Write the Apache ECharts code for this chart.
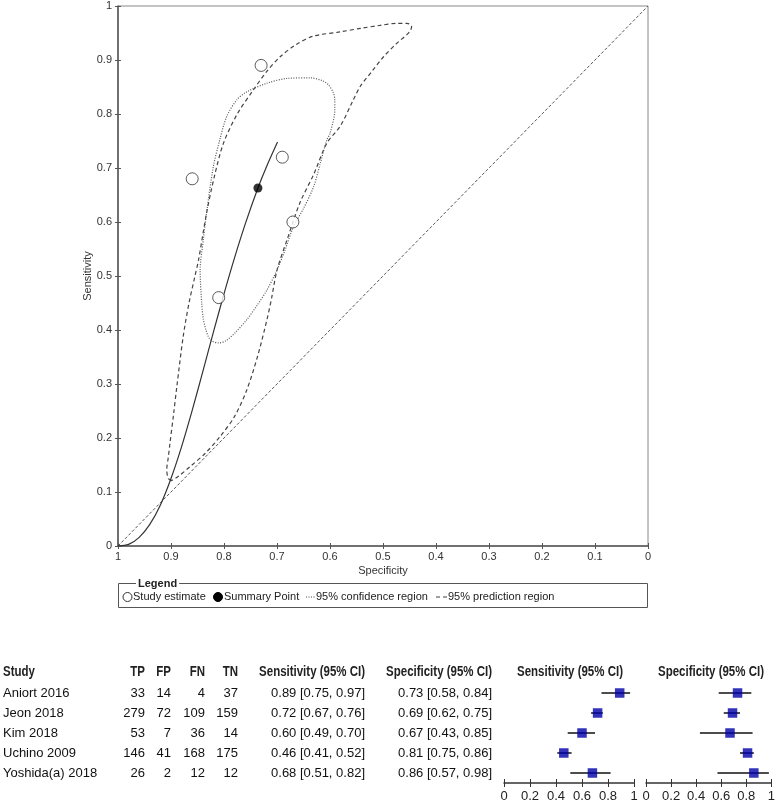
<!DOCTYPE html>
<html><head><meta charset="utf-8">
<script src="https://cdn.jsdelivr.net/npm/echarts@6/dist/echarts.min.js"></script>
<style>html,body{margin:0;padding:0;background:#fff}#c{width:778px;height:803px}</style>
</head><body><div id="c"></div>
<script>
// ---- data ----
const studies = ['Aniort 2016','Jeon 2018','Kim 2018','Uchino 2009','Yoshida(a) 2018'];
const tp = [33,279,53,146,26];
const fp = [14,72,7,41,2];
const fn = [4,109,36,168,12];
const tn = [37,159,14,175,12];
const sens   = [0.89,0.72,0.60,0.46,0.68];
const sensLo = [0.75,0.67,0.49,0.41,0.51];
const sensHi = [0.97,0.76,0.70,0.52,0.82];
const spec   = [0.73,0.69,0.67,0.81,0.86];
const specLo = [0.58,0.62,0.43,0.75,0.57];
const specHi = [0.84,0.75,0.85,0.86,0.98];
const summarySpec = 0.736, summarySens = 0.663;
// SROC curve (specificity, sensitivity)
const srocSpec = [1.0,0.98,0.96,0.94,0.92,0.90,0.88,0.86,0.84,0.82,0.80,0.78,0.76,0.736,0.72,0.699];
const srocSens = [0,0.003,0.016,0.04,0.076,0.125,0.184,0.251,0.323,0.396,0.467,0.534,0.596,0.663,0.702,0.748];
// 95% confidence region
const confSpec = [0.82,0.828,0.834,0.839,0.842,0.845,0.839,0.833,0.82,0.808,0.795,0.776,0.757,0.719,0.68,0.638,0.615,0.603,0.594,0.591,0.591,0.60,0.606,0.618,0.631,0.65,0.669,0.686,0.70,0.719,0.738,0.757,0.777,0.795,0.81,0.82];
const confSens = [0.378,0.385,0.40,0.42,0.449,0.511,0.567,0.616,0.703,0.752,0.795,0.826,0.841,0.857,0.866,0.867,0.862,0.854,0.84,0.826,0.807,0.764,0.752,0.71,0.665,0.625,0.591,0.545,0.511,0.474,0.445,0.419,0.397,0.381,0.376,0.378];
// 95% prediction region
const predSpec = [0.899,0.905,0.908,0.905,0.902,0.895,0.889,0.877,0.866,0.855,0.848,0.833,0.818,0.801,0.775,0.745,0.72,0.694,0.665,0.632,0.581,0.54,0.506,0.474,0.455,0.446,0.448,0.455,0.475,0.499,0.52,0.543,0.556,0.581,0.606,0.63,0.657,0.68,0.70,0.71,0.719,0.737,0.757,0.78,0.808,0.835,0.864,0.885,0.899];
const predSens = [0.121,0.125,0.141,0.165,0.19,0.245,0.295,0.388,0.45,0.499,0.53,0.616,0.685,0.746,0.80,0.844,0.878,0.906,0.928,0.944,0.952,0.959,0.964,0.968,0.968,0.963,0.955,0.947,0.93,0.906,0.88,0.851,0.826,0.777,0.746,0.69,0.635,0.57,0.511,0.46,0.419,0.35,0.289,0.24,0.202,0.172,0.147,0.13,0.121];
const diagSpec = [1,0];
const diagSens = [0,1];

// ---- layout ----
const FONT = '"Liberation Sans", Arial, sans-serif';
const zip = (a,b) => a.map((v,i)=>[v,b[i]]);
const chart = echarts.init(document.getElementById('c'), null, {renderer:'canvas'});

function axisPair(gridIndex, min, max, interval, inverse, tickLen, lineColor, labelOpt, extra){
  const base = {gridIndex, type:'value', min, max, interval, inverse, splitLine:{show:false}};
  const a = Object.assign({}, base, {
    axisLine:{show:true, onZero:false, lineStyle:{color:lineColor, width:1.5}},
    axisTick:{show:true, length:tickLen, lineStyle:{color:lineColor, width:1}},
    axisLabel:Object.assign({showMinLabel:true, showMaxLabel:true, fontFamily:FONT}, labelOpt)
  }, extra||{});
  const b = Object.assign({}, base, {
    position: extra && extra.position,
    axisLine:{show:false, onZero:false},
    axisTick:{show:true, inside:true, length:tickLen, lineStyle:{color:lineColor, width:1}},
    axisLabel:{show:false}
  });
  return [a,b];
}

const xs0 = axisPair(0,0,1,0.1,true,3,'#555',{fontSize:11,color:'#333',margin:5},
  {position:'bottom', name:'Specificity', nameLocation:'middle', nameGap:19, nameMoveOverlap:false,
   nameTextStyle:{fontSize:11,color:'#333',fontFamily:FONT}});
const ys0 = axisPair(0,0,1,0.1,false,3,'#555',{fontSize:11,color:'#333',margin:6},
  {position:'left', name:'Sensitivity', nameLocation:'middle', nameGap:25, nameMoveOverlap:false,
   nameTextStyle:{fontSize:11,color:'#333',fontFamily:FONT}});
const forestLabel = {fontSize:13,color:'#222',margin:7,fontFamily:FONT};
const xs1 = axisPair(1,0,1,0.2,false,4,'#333',forestLabel,{position:'bottom'});
const xs2 = axisPair(2,0,1,0.2,false,4,'#333',forestLabel,{position:'bottom'});

const catY = (g)=>({gridIndex:g, type:'category', data:studies, inverse:true, show:false});

function ciSeries(xi, yi, lo, hi){
  return {type:'custom', xAxisIndex:xi, yAxisIndex:yi, silent:true,
    data: studies.map((s,i)=>[lo[i], hi[i], i]),
    encode:{x:[0,1], y:2},
    renderItem:(p, api)=>{
      const a = api.coord([api.value(0), api.value(2)]);
      const b = api.coord([api.value(1), api.value(2)]);
      return {type:'line', shape:{x1:a[0],y1:a[1],x2:b[0],y2:b[1]}, style:{stroke:'#111', lineWidth:1.5}};
    }};
}
function sqSeries(xi, yi, v){
  return {type:'scatter', xAxisIndex:xi, yAxisIndex:yi, symbol:'rect', symbolSize:9.5, z:5,
    itemStyle:{color:'#0000a8'}, data: studies.map((s,i)=>[v[i], i])};
}

// table text
const rowY = i => 693.1 + 20.2*i;
const HY = 672;
const txt = [];
function T(x, y, s, align, opts){
  opts = opts||{};
  const el = {type:'text', x, y, z:10, silent:true,
    style:{text:s, x:0, y:0, align, textAlign:align, verticalAlign:'middle', textVerticalAlign:'middle',
      font:(opts.bold?'bold ':'') + (opts.size||13) + 'px ' + FONT, fill:opts.color||'#111'}};
  if (opts.scaleX) el.scaleX = opts.scaleX;
  txt.push(el);
}
const HB = {bold:true, size:14, scaleX:0.82, color:'#222'};
T(3, HY, 'Study', 'left', HB);
T(145, HY, 'TP', 'right', HB);
T(171, HY, 'FP', 'right', HB);
T(205, HY, 'FN', 'right', HB);
T(238, HY, 'TN', 'right', HB);
T(365, HY, 'Sensitivity (95% CI)', 'right', HB);
T(492, HY, 'Specificity (95% CI)', 'right', HB);
T(570, HY, 'Sensitivity (95% CI)', 'center', HB);
T(711, HY, 'Specificity (95% CI)', 'center', HB);
const f2 = v => v.toFixed(2);
studies.forEach((s,i)=>{
  const y = rowY(i);
  T(3, y, s, 'left');
  T(145, y, String(tp[i]), 'right');
  T(171, y, String(fp[i]), 'right');
  T(205, y, String(fn[i]), 'right');
  T(238, y, String(tn[i]), 'right');
  T(365, y, f2(sens[i])+' ['+f2(sensLo[i])+', '+f2(sensHi[i])+']', 'right');
  T(492, y, f2(spec[i])+' ['+f2(specLo[i])+', '+f2(specHi[i])+']', 'right');
});

// legend box
const LY = 597;
const lt = (x, s) => ({type:'text', x, y:LY, silent:true, style:{text:s, x:0, y:0, align:'left', textAlign:'left', verticalAlign:'middle', textVerticalAlign:'middle', font:'11px '+FONT, fill:'#222'}});
const legendEls = [
  {type:'rect', shape:{x:118.5, y:583.5, width:529, height:24}, style:{fill:'none', stroke:'#555', lineWidth:1}, silent:true},
  {type:'text', x:136, y:583.5, silent:true, style:{text:'Legend', x:0, y:0, align:'left', textAlign:'left', verticalAlign:'middle', textVerticalAlign:'middle', font:'bold 11px '+FONT, fill:'#222', backgroundColor:'#fff', padding:[0,2]}},
  {type:'circle', shape:{cx:127.5, cy:LY, r:4.5}, style:{fill:'#fff', stroke:'#333', lineWidth:1}, silent:true},
  lt(133, 'Study estimate'),
  {type:'circle', shape:{cx:218, cy:LY, r:4.5}, style:{fill:'#000', stroke:'#000', lineWidth:1}, silent:true},
  lt(224, 'Summary Point'),
  {type:'line', shape:{x1:306, y1:LY, x2:315, y2:LY}, style:{stroke:'#444', lineWidth:1, lineDash:[1,1.5]}, silent:true},
  lt(316, '95% confidence region'),
  {type:'line', shape:{x1:436, y1:LY, x2:447, y2:LY}, style:{stroke:'#444', lineWidth:1.2, lineDash:[4,3]}, silent:true},
  lt(448, '95% prediction region')
];

const option = {
  animation:false,
  backgroundColor:'#fff',
  textStyle:{fontFamily:FONT},
  grid:[
    {left:118, top:6, width:530, height:540, show:true, borderColor:'#888', borderWidth:1, backgroundColor:'transparent'},
    {left:504, top:683, width:130, height:101},
    {left:646, top:683, width:129, height:101}
  ],
  xAxis:[xs0[0], xs0[1], xs1[0], xs1[1], xs2[0], xs2[1]],
  yAxis:[ys0[0], ys0[1], catY(1), catY(2)],
  graphic:{elements: txt.concat(legendEls)},
  series:[
    {type:'line', name:'diag', xAxisIndex:0, yAxisIndex:0, data:zip(diagSpec,diagSens), symbol:'none', silent:true,
      lineStyle:{color:'#555', width:1, type:[3,2]}},
    {type:'line', name:'95% prediction region', xAxisIndex:0, yAxisIndex:0, data:zip(predSpec,predSens), symbol:'none', smooth:0.3, silent:true,
      lineStyle:{color:'#444', width:1.2, type:[4,3]}},
    {type:'line', name:'95% confidence region', xAxisIndex:0, yAxisIndex:0, data:zip(confSpec,confSens), symbol:'none', smooth:0.3, silent:true,
      lineStyle:{color:'#555', width:1.2, type:[1,1.5]}},
    {type:'line', name:'SROC', xAxisIndex:0, yAxisIndex:0, data:zip(srocSpec,srocSens), symbol:'none', smooth:0.3, silent:true,
      lineStyle:{color:'#333', width:1.2}},
    {type:'scatter', name:'Study estimate', xAxisIndex:0, yAxisIndex:0, data:zip(spec,sens), symbol:'circle', symbolSize:12, z:5,
      itemStyle:{color:'#fff', borderColor:'#333', borderWidth:1}},
    {type:'scatter', name:'Summary Point', xAxisIndex:0, yAxisIndex:0, data:[[summarySpec, summarySens]], symbol:'circle', symbolSize:9, z:6,
      itemStyle:{color:'#000'}},
    ciSeries(2, 2, sensLo, sensHi),
    sqSeries(2, 2, sens),
    ciSeries(4, 3, specLo, specHi),
    sqSeries(4, 3, spec)
  ]
};
chart.setOption(option);
</script>
</body></html>
